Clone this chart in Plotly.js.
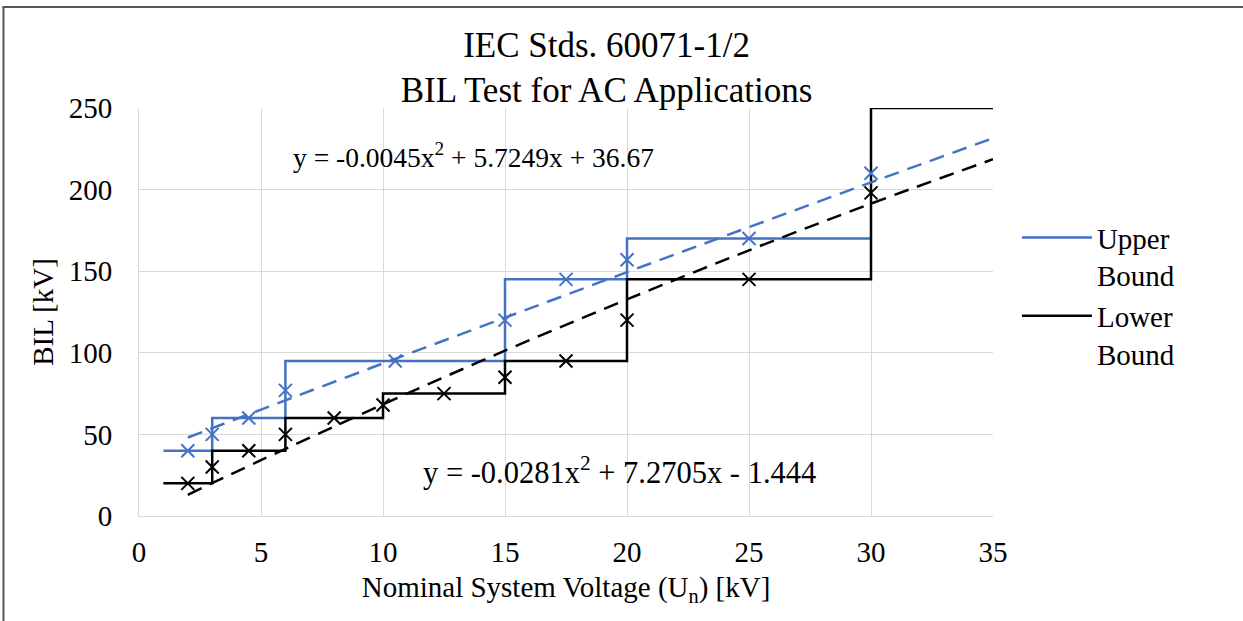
<!DOCTYPE html>
<html>
<head>
<meta charset="utf-8">
<script src="https://cdn.plot.ly/plotly-3.0.1.min.js"></script>
<style>
html,body{margin:0;padding:0;background:#fff;}
#chart{width:1243px;height:621px;}
</style>
</head>
<body>
<div id="chart"></div>
<script>
// Step lines (standard BIL bounds)
const upperStepX = [1, 3, 6, 15, 20, 30];
const upperStepY = [40, 60, 95, 145, 170, 170];
const lowerStepX = [1, 3, 6, 10, 15, 20, 30, 35];
const lowerStepY = [20, 40, 60, 75, 95, 145, 250, 250];

// Marker points
const upperPtsX = [2, 3, 4.5, 6, 10.5, 15, 17.5, 20, 25, 30];
const upperPtsY = [40, 50, 60, 77, 95, 120, 145, 157, 170, 210];
const lowerPtsX = [2, 3, 4.5, 6, 8, 10, 12.5, 15, 17.5, 20, 25, 30];
const lowerPtsY = [20, 30, 40, 50, 60, 68, 75, 85, 95, 120, 145, 198];

// Trendline values
const trendX = [2, 5, 10, 15, 20, 25, 30, 35];
const upperTrendY = [48.1, 65.2, 93.5, 121.5, 149.4, 177.0, 204.4, 231.5];
const lowerTrendY = [13.0, 34.2, 68.4, 101.3, 132.7, 162.8, 191.4, 218.6];

// Text
const titleText = 'IEC Stds. 60071-1/2<br>BIL Test for AC Applications';
const xTitle = 'Nominal System Voltage (U<sub>n</sub>) [kV]';
const yTitle = 'BIL [kV]';
const upperName = 'Upper<br>Bound';
const lowerName = 'Lower<br>Bound';
const upperEq = 'y = -0.0045x<sup>2</sup> + 5.7249x + 36.67';
const lowerEq = 'y = -0.0281x<sup>2</sup> + 7.2705x - 1.444';

const BLUE = '#4472C4';
const BLACK = '#000000';
const FONT = '"Liberation Serif", "Times New Roman", serif';

const traces = [
  {x: upperStepX, y: upperStepY, mode: 'lines', line: {shape: 'hv', color: BLUE, width: 2.5}, name: upperName},
  {x: lowerStepX, y: lowerStepY, mode: 'lines', line: {shape: 'hv', color: BLACK, width: 2.5}, name: lowerName},
  {x: upperPtsX, y: upperPtsY, mode: 'markers', showlegend: false,
   marker: {symbol: 'x-thin', size: 13, color: BLUE, line: {color: BLUE, width: 2}}},
  {x: lowerPtsX, y: lowerPtsY, mode: 'markers', showlegend: false,
   marker: {symbol: 'x-thin', size: 13, color: BLACK, line: {color: BLACK, width: 2}}},
  {x: trendX, y: upperTrendY, mode: 'lines', showlegend: false,
   line: {shape: 'spline', color: BLUE, width: 2.5, dash: '15px,9px'}},
  {x: trendX, y: lowerTrendY, mode: 'lines', showlegend: false,
   line: {shape: 'spline', color: BLACK, width: 2.5, dash: '15px,9px'}}
];

const layout = {
  width: 1243, height: 621,
  paper_bgcolor: '#ffffff', plot_bgcolor: '#ffffff',
  margin: {l: 139, r: 250, t: 108, b: 105, pad: 0},
  font: {family: FONT, size: 29, color: '#000000'},
  title: {text: titleText, font: {family: FONT, size: 35, color: '#000000'},
          x: 0.488, xref: 'container', xanchor: 'center', y: 0.909, yref: 'container', yanchor: 'top'},
  xaxis: {range: [0, 35], dtick: 5, tick0: 0, showgrid: true, gridcolor: '#d9d9d9', gridwidth: 1,
          showline: true, linecolor: '#d9d9d9', linewidth: 1, zeroline: false, ticks: '',
          ticklabelstandoff: 10, tickfont: {family: FONT, size: 29},
          title: {text: xTitle, font: {family: FONT, size: 29}, standoff: 9}},
  yaxis: {range: [0, 250], dtick: 50, tick0: 0, showgrid: true, gridcolor: '#d9d9d9', gridwidth: 1,
          showline: true, linecolor: '#d9d9d9', linewidth: 1, zeroline: false, ticks: '',
          ticklabelstandoff: 20, tickfont: {family: FONT, size: 29},
          title: {text: yTitle, font: {family: FONT, size: 29}, standoff: 6}},
  legend: {x: 1.028, xanchor: 'left', y: 0.745, yanchor: 'top', valign: 'top', font: {family: FONT, size: 29},
           bgcolor: 'rgba(0,0,0,0)', borderwidth: 0, itemwidth: 70, tracegroupgap: 0},
  annotations: [
    {text: upperEq, xref: 'x', yref: 'y', x: 13.71, y: 220.8, showarrow: false,
     font: {family: FONT, size: 27.5}, xanchor: 'center', yanchor: 'middle'},
    {text: lowerEq, xref: 'x', yref: 'y', x: 19.7, y: 27.8, showarrow: false,
     font: {family: FONT, size: 30.5}, xanchor: 'center', yanchor: 'middle'}
  ],
  shapes: [
    {type: 'line', xref: 'paper', yref: 'paper', x0: -0.16, x1: 1.3, y0: 1.2475, y1: 1.2475,
     line: {color: '#555555', width: 2}},
    {type: 'line', xref: 'paper', yref: 'paper', x0: -0.1587, x1: -0.1587, y0: 1.2475, y1: -0.3,
     line: {color: '#555555', width: 2}}
  ]
};

Plotly.newPlot('chart', traces, layout, {displayModeBar: false, staticPlot: true});
</script>
</body>
</html>
